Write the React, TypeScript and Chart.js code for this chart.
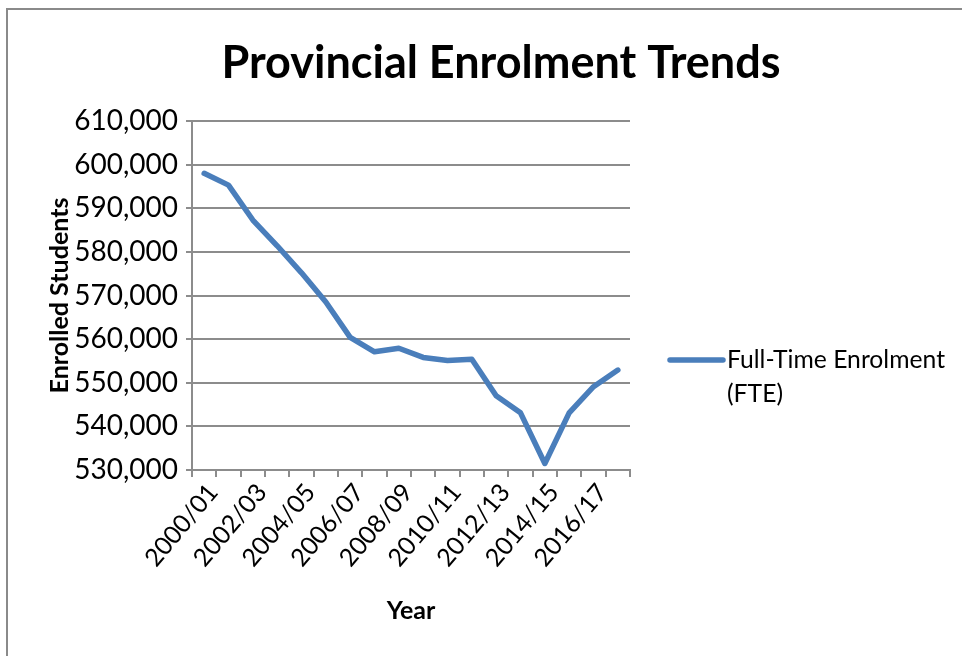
import React, { useEffect, useRef } from "react";
import { Chart, registerables } from "chart.js";

Chart.register(...registerables);

const categories = [
  "2000/01", "2001/02", "2002/03", "2003/04", "2004/05", "2005/06",
  "2006/07", "2007/08", "2008/09", "2009/10", "2010/11", "2011/12",
  "2012/13", "2013/14", "2014/15", "2015/16", "2016/17", "2017/18",
];

const enrolment = [
  598000, 595300, 587300, 581400, 575200, 568500,
  560400, 557100, 557900, 555800, 555100, 555400,
  547000, 543100, 531500, 543100, 549100, 552900,
];

const seriesLabel = "Full-Time Enrolment (FTE)";
const chartTitle = "Provincial Enrolment Trends";
const xTitle = "Year";
const yTitle = "Enrolled Students";
const yMin = 530000;
const yMax = 610000;
const yStep = 10000;

const FONT = "Lato, 'Open Sans', sans-serif";
const GRID = "#8c8c8c";
const LINE = "#4a7ebb";

const decorPlugin = {
  id: "decor",
  afterDraw(chart: any) {
    const { ctx, chartArea } = chart;
    const ds = chart.data.datasets[0];
    ctx.save();
    ctx.fillStyle = "#000";
    ctx.font = `bold 45px ${FONT}`;
    ctx.textAlign = "center";
    ctx.textBaseline = "alphabetic";
    ctx.fillText(chartTitle, chart.width / 2, 78);

    const x0 = chartArea.right + 38;
    const y0 = chartArea.top + 239;
    ctx.strokeStyle = ds.borderColor;
    ctx.lineWidth = 5.5;
    ctx.lineCap = "round";
    ctx.beginPath();
    ctx.moveTo(x0 + 2, y0);
    ctx.lineTo(x0 + 55, y0);
    ctx.stroke();
    ctx.fillStyle = "#000";
    ctx.font = `24.7px ${FONT}`;
    ctx.textBaseline = "middle";
    ctx.textAlign = "left";
    const words = String(ds.label).split(" ");
    const maxW = 228;
    const lines: string[] = [];
    let cur = "";
    for (const w of words) {
      const t = cur ? cur + " " + w : w;
      if (ctx.measureText(t).width > maxW && cur) {
        lines.push(cur);
        cur = w;
      } else cur = t;
    }
    if (cur) lines.push(cur);
    lines.forEach((l, i) => ctx.fillText(l, x0 + 59, y0 + i * 34));
    ctx.restore();
  },
};

export default function App() {
  const ref = useRef<HTMLCanvasElement>(null);
  useEffect(() => {
    if (!ref.current) return;
    const chart = new Chart(ref.current, {
      type: "line",
      data: {
        labels: categories,
        datasets: [
          {
            label: seriesLabel,
            data: enrolment,
            borderColor: LINE,
            backgroundColor: LINE,
            borderWidth: 5.5,
            pointRadius: 0,
            borderCapStyle: "round",
            borderJoinStyle: "round",
            tension: 0,
          },
        ],
      },
      options: {
        animation: false,
        responsive: false,
        layout: { padding: { left: 41, right: 372, top: 121, bottom: 70 } },
        plugins: {
          legend: { display: false },
          tooltip: { enabled: false },
          title: { display: false },
        },
        scales: {
          x: {
            type: "category",
            offset: true,
            afterFit(scale: any) {
              scale.height = 160;
            },
            grid: {
              offset: true,
              drawOnChartArea: false,
              drawTicks: true,
              tickLength: 7,
              color: GRID,
              lineWidth: 2,
            },
            border: { display: true, color: GRID, width: 2 },
            ticks: {
              autoSkip: false,
              maxRotation: 50,
              minRotation: 50,
              color: "#000",
              font: { family: FONT, size: 25 },
              padding: 1,
              labelOffset: 9,
              callback: (_v: any, i: number) => (i % 2 === 0 ? categories[i] : ""),
            },
            title: {
              display: true,
              text: xTitle,
              color: "#000",
              font: { family: FONT, size: 25, weight: "bold" },
            },
          },
          y: {
            min: yMin,
            max: yMax,
            afterFit(scale: any) {
              scale.width = 151;
            },
            grid: {
              color: GRID,
              lineWidth: 2,
              drawTicks: true,
              tickLength: 6,
            },
            border: { display: true, color: GRID, width: 2 },
            ticks: {
              stepSize: yStep,
              color: "#000",
              font: { family: FONT, size: 28 },
              padding: 8,
              callback: (v: any) => Number(v).toLocaleString("en-US"),
            },
            title: {
              display: true,
              text: yTitle,
              color: "#000",
              font: { family: FONT, size: 25, weight: "bold" },
            },
          },
        },
      },
      plugins: [decorPlugin],
    });
    return () => chart.destroy();
  }, []);

  return (
    <div
      style={{
        position: "fixed",
        left: 0,
        top: 0,
        width: 962,
        height: 656,
        overflow: "hidden",
        background: "#fff",
      }}
    >
      <canvas
        ref={ref}
        width={1002}
        height={700}
        style={{ position: "absolute", left: 0, top: 0, width: 1002, height: 700 }}
      />
      <div
        style={{
          position: "absolute",
          left: 6,
          top: 8,
          width: 1100,
          height: 800,
          border: "2px solid #8a8a8a",
          boxSizing: "border-box",
          pointerEvents: "none",
        }}
      />
    </div>
  );
}
